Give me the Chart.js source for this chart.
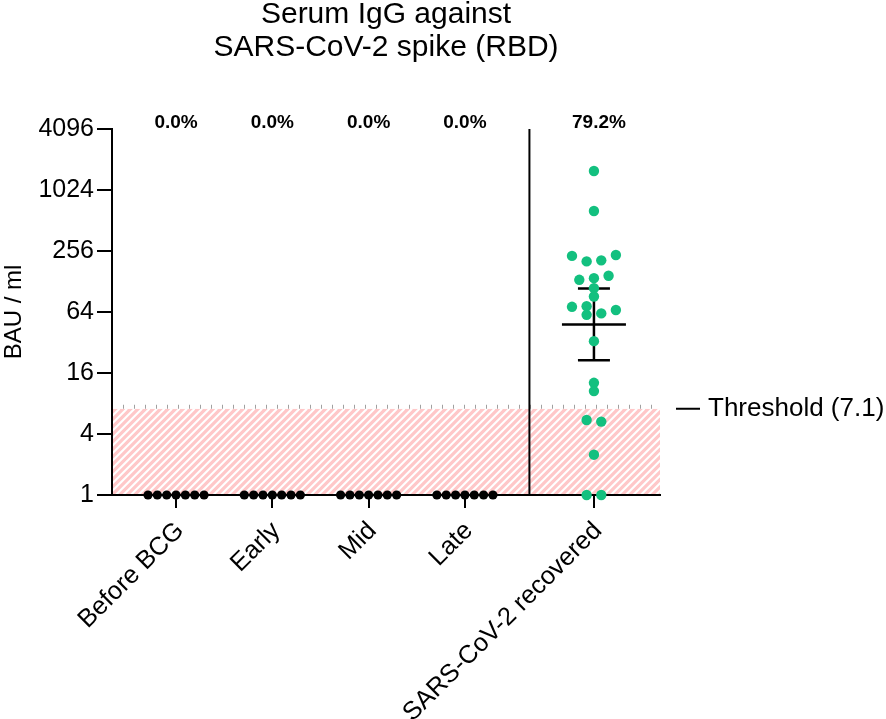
<!DOCTYPE html>
<html>
<head>
<meta charset="utf-8">
<script src="https://cdn.jsdelivr.net/npm/chart.js@4/dist/chart.umd.min.js"></script>
<style>
  html, body { margin: 0; padding: 0; background: #fff; }
  #wrap { width: 886px; height: 719px; }
</style>
</head>
<body>
<div id="wrap"><canvas id="chart"></canvas></div>
<script>
// ---- data ----
const groupLabels = ['Before BCG', 'Early', 'Mid', 'Late', 'SARS-CoV-2 recovered'];
const beforeBCG = [1, 1, 1, 1, 1, 1, 1];
const early = [1, 1, 1, 1, 1, 1, 1];
const mid = [1, 1, 1, 1, 1, 1, 1];
const late = [1, 1, 1, 1, 1, 1, 1];
const recovered = [1576, 635, 229, 202, 207, 234, 133, 138, 146, 110, 91, 72,
                   73, 60, 62, 67, 33, 12.8, 10.6, 5.5, 5.3, 2.5, 1, 1];
// beeswarm slot of each dot (left/right of the group centre)
const bcgSlots = [-3, -2, -1, 0, 1, 2, 3];
const recoveredSlots = [0, 0, -3, -1, 1, 3, -2, 0, 2, 0, 0, -3,
                        -1, -1, 1, 3, 0, 0, 0, -1, 1, 0, -1, 1];
const yTicks = [1, 4, 16, 64, 256, 1024, 4096];
const threshold = 7.1;

// ---- layout ----
const xPos = [0, 1, 2, 3, 4.34];
const dividerPos = 3.67;
const green = '#13c07f';

function spread(values, slots, center, step) {
  return values.map((v, i) => ({ x: center + slots[i] * step, y: v }));
}

// geometric mean with 95% CI for the recovered group
function geoStats(vals) {
  const logs = vals.map(v => Math.log2(v));
  const n = logs.length;
  const m = logs.reduce((s, v) => s + v, 0) / n;
  const sd = Math.sqrt(logs.reduce((s, v) => s + (v - m) ** 2, 0) / (n - 1));
  const half = 2.069 * sd / Math.sqrt(n);
  return { mean: 2 ** m, lo: 2 ** (m - half), hi: 2 ** (m + half) };
}

const groups = [beforeBCG, early, mid, late, recovered];
const font = '"Liberation Sans", Arial, sans-serif';

const decor = {
  id: 'decor',
  beforeDraw(chart) {
    const { ctx, chartArea: a, scales: { y } } = chart;
    const top = y.getPixelForValue(threshold);
    const bottom = y.getPixelForValue(1);
    const h = bottom - top;
    ctx.save();
    ctx.beginPath();
    ctx.rect(a.left, top, a.right - a.left, h);
    ctx.clip();
    ctx.fillStyle = '#ffc8c9';
    ctx.fillRect(a.left, top, a.right - a.left, h);
    ctx.strokeStyle = '#ffffff';
    ctx.lineWidth = 2.1;
    ctx.beginPath();
    for (let k = a.left - h; k < a.right + h; k += 7.5) {
      ctx.moveTo(k, bottom);
      ctx.lineTo(k + h, top);
    }
    ctx.stroke();
    ctx.restore();
    // faint ticks along the threshold edge
    ctx.save();
    ctx.strokeStyle = '#a0a0a0';
    ctx.lineWidth = 1;
    ctx.beginPath();
    for (let px = a.left + 11; px < a.right; px += 11) {
      ctx.moveTo(px + 0.5, top - 4);
      ctx.lineTo(px + 0.5, top);
    }
    ctx.stroke();
    ctx.restore();
  },
  beforeDatasetsDraw(chart) {
    const { ctx, chartArea: a, scales: { x, y } } = chart;
    ctx.save();
    ctx.strokeStyle = '#000';
    ctx.lineWidth = 2;
    const dx = x.getPixelForValue(dividerPos);
    ctx.beginPath();
    ctx.moveTo(dx, a.top);
    ctx.lineTo(dx, a.bottom);
    ctx.stroke();

    const st = geoStats(recovered);
    const cx = x.getPixelForValue(xPos[4]);
    const ym = y.getPixelForValue(st.mean);
    const ylo = y.getPixelForValue(st.lo);
    const yhi = y.getPixelForValue(st.hi);
    ctx.lineWidth = 2.5;
    ctx.beginPath();
    ctx.moveTo(cx - 32, ym); ctx.lineTo(cx + 32, ym);
    ctx.moveTo(cx, yhi); ctx.lineTo(cx, ylo);
    ctx.moveTo(cx - 16, yhi); ctx.lineTo(cx + 16, yhi);
    ctx.moveTo(cx - 16, ylo); ctx.lineTo(cx + 16, ylo);
    ctx.stroke();
    ctx.restore();
  },
  afterDraw(chart) {
    const { ctx, chartArea: a, scales: { x, y } } = chart;
    ctx.save();
    ctx.fillStyle = '#000';
    // title
    const mid = (a.left + a.right) / 2;
    ctx.font = '30px ' + font;
    ctx.textAlign = 'center';
    ctx.textBaseline = 'alphabetic';
    ctx.fillText('Serum IgG against', mid, 23);
    ctx.fillText('SARS-CoV-2 spike (RBD)', mid, 56);
    // share above threshold per group
    ctx.font = 'bold 19px ' + font;
    groups.forEach((vals, i) => {
      const pct = 100 * vals.filter(v => v > threshold).length / vals.length;
      ctx.fillText(pct.toFixed(1) + '%', x.getPixelForValue(xPos[i]) + (i === 4 ? 5 : 0), a.top - 1);
    });
    // threshold key
    const ty = y.getPixelForValue(threshold);
    ctx.lineWidth = 2;
    ctx.strokeStyle = '#000';
    ctx.beginPath();
    ctx.moveTo(a.right + 16, ty);
    ctx.lineTo(a.right + 40, ty);
    ctx.stroke();
    ctx.font = '26px ' + font;
    ctx.textAlign = 'left';
    ctx.textBaseline = 'middle';
    ctx.fillText('Threshold (' + threshold + ')', a.right + 48, ty);
    ctx.restore();
  }
};

const datasets = groups.map((vals, i) => ({
  data: i === 4 ? spread(vals, recoveredSlots, xPos[i], 0.076)
                : spread(vals, bcgSlots, xPos[i], 0.097),
  backgroundColor: i === 4 ? green : '#000',
  borderWidth: 0,
  pointRadius: i === 4 ? 5.2 : 4.6,
  pointHoverRadius: i === 4 ? 5.2 : 4.6,
  clip: false
}));

new Chart(document.getElementById('chart'), {
  type: 'scatter',
  data: { datasets },
  options: {
    responsive: true,
    maintainAspectRatio: false,
    animation: false,
    events: [],
    layout: { padding: { top: 129, right: 226, left: 0, bottom: 0 } },
    plugins: { legend: { display: false }, tooltip: { enabled: false } },
    scales: {
      x: {
        type: 'linear',
        min: -0.665,
        max: 5.026,
        afterBuildTicks: s => { s.ticks = xPos.map(v => ({ value: v })); },
        afterFit: s => { s.height = 224; },
        grid: { drawOnChartArea: false, drawTicks: true, tickLength: 13, color: '#000', lineWidth: 2 },
        border: { color: '#000', width: 2 },
        ticks: {
          autoSkip: false,
          minRotation: 45,
          maxRotation: 45,
          padding: 8,
          labelOffset: 4,
          color: '#000',
          font: { family: font, size: 25.5 },
          callback: (v, i) => groupLabels[i]
        }
      },
      y: {
        type: 'logarithmic',
        min: 1,
        max: 4096,
        afterBuildTicks: s => { s.ticks = yTicks.map(v => ({ value: v })); },
        afterFit: s => { s.width = 112; },
        grid: { drawOnChartArea: false, drawTicks: true, tickLength: 15, color: '#000', lineWidth: 2 },
        border: { color: '#000', width: 2 },
        ticks: {
          padding: 3,
          color: '#000',
          font: { family: font, size: 25 },
          callback: v => String(v)
        },
        title: {
          display: true,
          text: 'BAU / ml',
          color: '#000',
          padding: 0,
          font: { family: font, size: 24 }
        }
      }
    }
  },
  plugins: [decor]
});
</script>
</body>
</html>
